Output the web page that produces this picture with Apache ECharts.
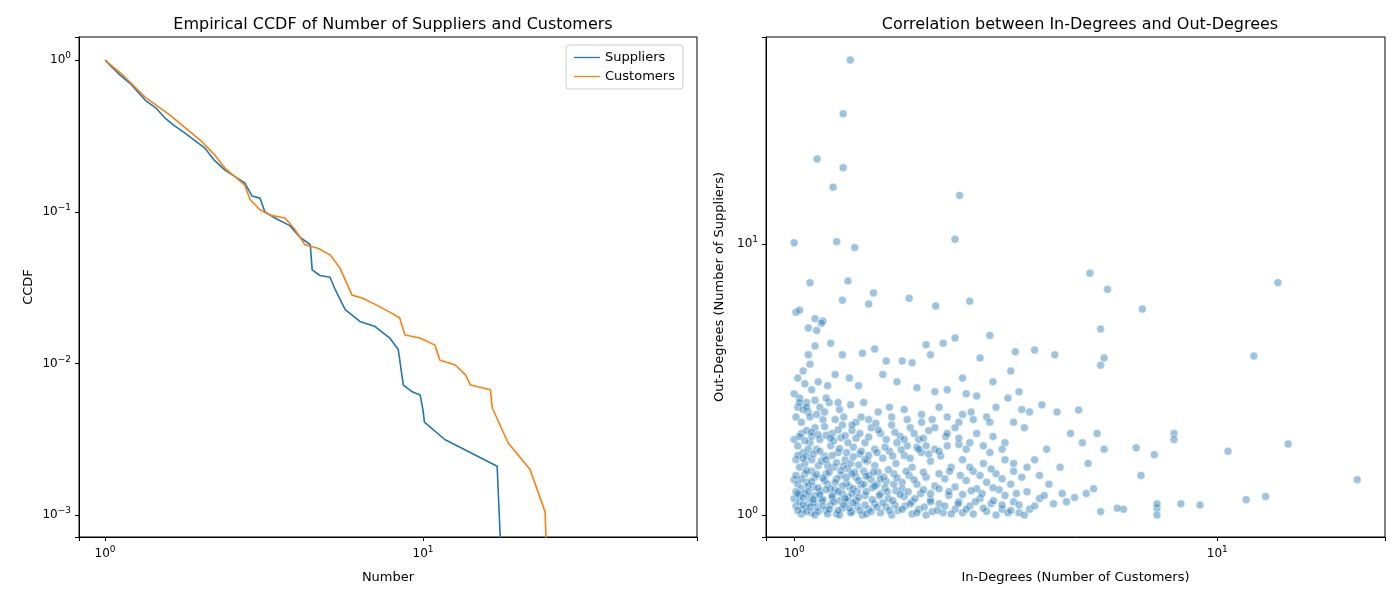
<!DOCTYPE html>
<html lang="en">
<head>
    <meta charset="UTF-8">
    <title>CCDF and degree correlation</title>
    <script src="https://cdn.jsdelivr.net/npm/echarts@6/dist/echarts.min.js"></script>
    <style>
        body {margin: 0; background: #fff;}
        #main {width: 1400px; height: 600px;}
    </style>
</head>
<body>
<div id="main"></div>
<script type="text/javascript">
    // empirical CCDF, [number, ccdf]
    var suppliers = [[1,1],[1.115,0.796],[1.2,0.7],[1.336,0.545],[1.45,0.48],[1.544,0.415],[1.65,0.37],[1.784,0.33],[2.06,0.263],[2.2,0.22],[2.383,0.188],[2.75,0.155],
        [2.9,0.127],[3.07,0.123],[3.18,0.1],[3.42,0.091],[3.81,0.081],[4.1,0.068],[4.42,0.0606],[4.48,0.0414],[4.74,0.038],
        [5.1,0.037],[5.3,0.0305],[5.69,0.0226],[6.33,0.0189],[7.07,0.0175],[7.86,0.0147],[8.36,0.0123],[8.67,0.0072],
        [9.25,0.0065],[9.79,0.0062],[10,0.0049],[10.1,0.0041],[11.7,0.00315],[17.1,0.0021],[17.7,0.0004]];
    var customers = [[1,1],[1.15,0.78],[1.336,0.57],[1.6,0.434],[1.99,0.297],[2.2,0.24],[2.38,0.194],[2.75,0.15],[2.86,0.12],[3.07,0.103],
        [3.3,0.095],[3.68,0.091],[3.96,0.076],[4.25,0.0606],[4.67,0.0575],[5.1,0.052],[5.48,0.0425],[5.98,0.0282],
        [6.43,0.027],[7.07,0.0245],[7.86,0.0218],[8.44,0.02],[8.77,0.0154],[9.79,0.0147],[10.9,0.0132],[11.3,0.0105],
        [12.6,0.0098],[13.6,0.0084],[14.1,0.0072],[16.3,0.0067],[16.5,0.0051],[18.5,0.003],[21.7,0.002],[24.2,0.00105],[24.6,0.0004]];

    // [in-degree, out-degree]
    var degrees = [
        [1.357,47.7],[1.306,30.2],[1.133,20.6],[1.306,19.1],[1.236,16.2],[2.46,15.1],[1.0,10.1],[1.26,10.2],[1.39,9.7],[2.4,10.4],
        [5.0,7.8],[5.5,6.8],[13.9,7.2],[1.09,7.2],[1.34,7.3],[1.54,6.6],[2.6,6.15],[1.87,6.3],[2.16,5.9],[6.65,5.75],
        [1.01,5.6],[1.03,5.7],[5.3,4.86],[1.5,6.0],[1.3,6.2],[2.9,4.6],[12.2,3.86],[5.4,3.8],[4.13,3.9],[3.33,4.0],[3.7,4.06],
        [5.3,3.57],[5.2,2.0],[14.7,1.83],[10.6,1.72],[6.43,1.77],[21.4,1.35],[13.0,1.17],[11.7,1.14],[9.1,1.09],[8.2,1.1],
        [7.2,1.06],[7.9,2.0],[7.9,1.9],[7.1,1.67],[4.7,2.44],[4.18,2.4],[6.6,1.4],[7.2,1.1],[7.2,1.0],[6.0,1.05],[5.8,1.06],
        [5.3,1.03],[4.9,1.2],[5.1,1.25],[4.6,1.16],[4.4,1.12],[4.3,1.2],[4.0,1.3],[3.8,1.15],[3.6,1.05],[3.4,1.02],
        [1.12,5.3],[1.17,5.2],[1.08,4.9],[1.13,4.8],[1.16,5.1],[1.22,4.3],[1.12,4.2],[1.3,3.9],[1.45,3.95],[1.55,4.1],
        [1.65,3.7],[1.8,3.7],[1.9,3.65],[2.05,4.25],[2.1,3.9],[2.25,4.3],[2.4,4.5],[2.75,3.8],[3.25,3.4],[2.5,3.2],
        [1.05,3.4],[1.02,3.2],[1.06,3.05],[1.09,3.6],[1.08,3.9],[1.14,3.1],[1.2,3.0],[1.25,3.3],[1.35,3.2],[1.42,3.0],
        [1.62,3.3],[1.75,3.1],[1.95,2.95],[2.15,2.85],[2.3,2.9],[2.55,2.8],[2.7,2.75],[2.95,3.1],[3.4,2.85],[3.2,2.7],
        [1.0,2.8],[1.03,2.7],[1.07,2.6],[1.1,2.9],[1.15,2.5],[1.21,2.6],[1.28,2.45],[1.36,2.55],[1.46,2.6],[1.58,2.4],
        [1.68,2.5],[1.82,2.45],[2.0,2.35],[2.2,2.5],[2.45,2.2],[2.62,2.4],[2.85,2.3],[3.0,2.5],[3.6,2.4],[3.85,2.55],
        [1.01,2.3],[1.04,2.2],[1.08,2.4],[1.12,2.1],[1.17,2.25],[1.23,2.0],[1.3,2.15],[1.37,2.05],[1.44,2.3],[1.52,2.1],
        [1.6,2.0],[1.7,2.15],[1.78,1.95],[1.88,2.1],[1.97,1.9],[2.08,2.05],[2.28,1.95],[2.4,2.1],[2.7,2.0],[2.95,1.95],
        [3.15,1.85],[3.5,2.1],[3.95,1.75],[4.5,2.0],[4.8,1.85],[4.95,1.55],[5.4,1.75],[4.25,1.5],[3.7,1.6],[3.3,1.55],
        [1.0,1.9],[1.02,1.8],[1.05,1.7],[1.09,1.85],[1.13,1.75],[1.18,1.65],[1.22,1.8],[1.27,1.7],[1.32,1.6],[1.38,1.78],
        [1.43,1.68],[1.49,1.58],[1.55,1.75],[1.62,1.62],[1.68,1.72],[1.74,1.55],[1.82,1.66],[1.9,1.5],[2.0,1.7],[2.1,1.58],
        [2.22,1.65],[2.35,1.5],[2.5,1.6],[2.65,1.45],[2.8,1.55],[3.0,1.42],[3.15,1.6],[3.45,1.38],[2.9,1.7],[2.55,1.75],
        [1.01,1.6],[1.03,1.5],[1.06,1.55],[1.1,1.45],[1.14,1.52],[1.19,1.42],[1.24,1.5],[1.29,1.4],[1.34,1.48],[1.4,1.38],
        [1.46,1.45],[1.52,1.35],[1.58,1.44],[1.65,1.33],[1.72,1.42],[1.8,1.32],[1.87,1.4],[1.95,1.3],[2.05,1.38],[2.15,1.28],
        [2.27,1.36],[2.4,1.27],[2.55,1.34],[2.7,1.25],[2.85,1.32],[3.05,1.24],[3.25,1.3],[3.55,1.22],[3.9,1.18],[4.1,1.1],
        [1.0,1.35],[1.02,1.3],[1.04,1.25],[1.07,1.32],[1.11,1.27],[1.15,1.22],[1.2,1.3],[1.25,1.24],[1.3,1.2],[1.35,1.27],
        [1.41,1.22],[1.47,1.18],[1.53,1.26],[1.6,1.2],[1.67,1.15],[1.74,1.23],[1.82,1.17],[1.9,1.12],[1.99,1.2],[2.1,1.14],
        [2.2,1.1],[2.32,1.18],[2.45,1.12],[2.6,1.08],[2.75,1.15],[2.92,1.1],[3.1,1.05],[3.3,1.12],[3.7,1.08],[2.5,1.02],
        [1.0,1.15],[1.01,1.08],[1.03,1.12],[1.05,1.05],[1.08,1.1],[1.1,1.02],[1.13,1.07],[1.16,1.13],[1.19,1.04],[1.22,1.09],
        [1.26,1.01],[1.3,1.06],[1.33,1.12],[1.37,1.03],[1.41,1.08],[1.45,1.0],[1.5,1.05],[1.55,1.1],[1.6,1.02],[1.65,1.07],
        [1.7,1.0],[1.76,1.04],[1.83,1.08],[1.9,1.01],[1.97,1.05],[2.05,1.0],[2.12,1.03],[2.25,1.02],[2.4,1.05],[2.65,1.01],
        [2.85,1.03],[3.0,1.0],[3.2,1.02],[3.5,1.0],[1.04,1.01],[1.12,1.0],[1.2,1.01],[1.28,1.0],[1.36,1.02],[1.48,1.01],
        [1.06,1.42],[1.12,1.38],[1.18,1.34],[1.26,1.36],[1.33,1.31],[1.39,1.44],[1.44,1.29],[1.5,1.4],[1.57,1.3],[1.63,1.38],
        [1.07,1.65],[1.1,1.6],[1.16,1.58],[1.2,1.52],[1.26,1.56],[1.31,1.52],[1.36,1.55],[1.42,1.53],[1.47,1.6],[1.55,1.52],
        [1.04,2.0],[1.07,2.05],[1.1,1.95],[1.15,1.9],[1.19,1.97],[1.24,1.88],[1.29,1.93],[1.34,1.85],[1.4,1.92],[1.47,1.85],
        [1.02,2.5],[1.05,2.45],[1.09,2.3],[1.13,2.35],[1.18,2.4],[1.25,2.25],[1.31,2.3],[1.4,2.2],[1.5,2.25],[1.56,2.18],
        [1.01,1.22],[1.03,1.18],[1.06,1.2],[1.09,1.16],[1.12,1.18],[1.17,1.14],[1.23,1.16],[1.28,1.13],[1.34,1.16],[1.4,1.13],
        [1.08,1.28],[1.14,1.26],[1.22,1.25],[1.3,1.28],[1.38,1.25],[1.46,1.3],[1.55,1.28],[1.64,1.26],[1.72,1.3],[1.8,1.25],
        [1.75,1.85],[1.85,1.8],[1.95,1.78],[2.05,1.8],[2.15,1.75],[2.3,1.8],[2.45,1.82],[2.6,1.85],[2.8,1.8],[3.1,1.75],
        [1.7,2.3],[1.85,2.25],[2.0,2.2],[2.12,2.25],[2.3,2.3],[2.5,2.35],[2.65,2.25],[2.9,2.2],[3.3,2.2],[3.45,2.45]
    ];
    // extra points in the dense core of the cloud
    var degreesCore = [
        [1.02,1.04],[1.05,1.09],[1.07,1.03],[1.09,1.07],[1.11,1.11],[1.14,1.03],[1.17,1.08],[1.21,1.05],[1.24,1.12],[1.27,1.04],
        [1.31,1.09],[1.35,1.06],[1.38,1.11],[1.43,1.04],[1.47,1.09],[1.52,1.03],[1.57,1.07],[1.62,1.11],[1.68,1.04],[1.73,1.09],
        [1.02,1.2],[1.05,1.16],[1.08,1.22],[1.11,1.14],[1.15,1.19],[1.19,1.24],[1.23,1.18],[1.27,1.22],[1.32,1.15],[1.37,1.2],
        [1.42,1.16],[1.48,1.22],[1.53,1.14],[1.59,1.18],[1.66,1.22],[1.71,1.13],[1.78,1.19],[1.86,1.22],[1.93,1.15],[2.02,1.24],
        [1.01,1.4],[1.04,1.36],[1.07,1.46],[1.1,1.33],[1.13,1.41],[1.17,1.37],[1.21,1.44],[1.25,1.32],[1.29,1.46],[1.33,1.38],
        [1.37,1.42],[1.42,1.34],[1.48,1.39],[1.54,1.44],[1.6,1.36],[1.67,1.47],[1.75,1.37],[1.84,1.45],[1.92,1.35],[2.02,1.44],
        [1.02,1.66],[1.05,1.62],[1.08,1.75],[1.11,1.68],[1.15,1.72],[1.19,1.6],[1.23,1.66],[1.28,1.76],[1.33,1.7],[1.38,1.64],
        [1.44,1.72],[1.5,1.66],[1.57,1.7],[1.64,1.78],[1.71,1.65],[1.79,1.74],[1.88,1.62],[1.97,1.75],[2.08,1.68],[2.2,1.72],
        [1.03,1.95],[1.06,1.88],[1.1,2.02],[1.14,1.98],[1.18,2.12],[1.22,1.92],[1.27,2.06],[1.32,1.96],[1.37,2.15],[1.43,2.0],
        [1.5,1.94],[1.58,2.06],[1.65,1.9],[1.73,2.02],[1.82,1.9],[1.92,2.0],[2.02,1.92],[2.15,2.1],[2.3,2.0],[2.45,1.92],
        [1.8,1.05],[1.88,1.1],[1.95,1.02],[2.03,1.07],[2.1,1.12],[2.18,1.04],[2.27,1.08],[2.35,1.01],[2.44,1.1],[2.55,1.05],
        [2.68,1.12],[2.8,1.06],[2.96,1.13],[3.1,1.09],[3.25,1.04],[3.4,1.09],[2.1,1.2],[2.2,1.25],[2.32,1.22],[2.5,1.19],
        [2.62,1.23],[2.78,1.2],[2.95,1.26],[3.15,1.18],[3.35,1.2],[2.2,1.42],[2.33,1.45],[2.47,1.4],[2.6,1.5],[2.75,1.4],
        [2.92,1.48],[3.1,1.36],[3.3,1.45],[3.55,1.5],[3.8,1.4],[1.03,2.6],[1.07,2.5],[1.12,2.65],[1.19,2.7],[1.27,2.6]
    ];
    var scatterData = degrees.concat(degreesCore);

    var supText = {'0': '0', '1': '1', '-1': '\u22121', '-2': '\u22122', '-3': '\u22123'};

    function logLabel(v) {
        var e = Math.log10(v);
        var r = Math.round(e);
        if (Math.abs(e - r) > 1e-6) return '';
        return '10{s|' + (supText[String(r)] || r) + '}';
    }

    function logAxis(name, min, max, gap) {
        return {
            type: 'log', logBase: 10, min: min, max: max, name: name,
            nameLocation: 'middle', nameGap: gap,
            nameTextStyle: {color: '#000', fontSize: 13, fontFamily: 'DejaVu Sans'},
            axisLine: {show: true, lineStyle: {color: '#000', width: 1}},
            axisTick: {show: true, inside: false, length: 4, lineStyle: {color: '#000'}},
            axisLabel: {
                color: '#000', fontSize: 12, fontFamily: 'DejaVu Sans', formatter: logLabel,
                rich: {s: {fontSize: 9, verticalAlign: 'top', padding: [0, 0, 8, 0], fontFamily: 'DejaVu Sans'}}
            },
            splitLine: {show: false}
        };
    }

    var chart = echarts.init(document.getElementById('main'));
    var xL = logAxis('Number', 0.828, 72.7, 34);
    var yL = logAxis('CCDF', 7.17e-4, 1.42, 44);
    var xR = logAxis('In-Degrees (Number of Customers)', 0.858, 24.9, 34);
    var yR = logAxis('Out-Degrees (Number of Suppliers)', 0.83, 58.0, 40);
    xL.gridIndex = 0; yL.gridIndex = 0; xR.gridIndex = 1; yR.gridIndex = 1;

    chart.setOption({
        animation: false,
        textStyle: {fontFamily: 'DejaVu Sans'},
        title: [
            {text: 'Empirical CCDF of Number of Suppliers and Customers', left: 388, top: 12, textAlign: 'center',
                textStyle: {fontSize: 16, fontWeight: 'normal', color: '#000'}},
            {text: 'Correlation between In-Degrees and Out-Degrees', left: 1075, top: 12, textAlign: 'center',
                textStyle: {fontSize: 16, fontWeight: 'normal', color: '#000'}}
        ],
        legend: {
            data: ['Suppliers', 'Customers'], orient: 'vertical', left: 566, top: 45,
            borderColor: '#ccc', borderWidth: 1, borderRadius: 3, padding: [6, 8], itemGap: 6,
            itemWidth: 26, itemHeight: 10, icon: 'path://M0,5L30,5L30,6.5L0,6.5Z',
            textStyle: {fontSize: 13, color: '#000'}
        },
        grid: [
            {left: 79, top: 37, width: 618, height: 500, show: true, borderColor: '#000', borderWidth: 1},
            {left: 766, top: 37, width: 619, height: 500, show: true, borderColor: '#000', borderWidth: 1}
        ],
        xAxis: [xL, xR],
        yAxis: [yL, yR],
        series: [
            {name: 'Suppliers', type: 'line', xAxisIndex: 0, yAxisIndex: 0, data: suppliers, showSymbol: false,
                clip: true, color: '#1f77b4', lineStyle: {width: 1.6}},
            {name: 'Customers', type: 'line', xAxisIndex: 0, yAxisIndex: 0, data: customers, showSymbol: false,
                clip: true, color: '#ff7f0e', lineStyle: {width: 1.6}},
            {name: 'degrees', type: 'scatter', xAxisIndex: 1, yAxisIndex: 1, data: scatterData, symbolSize: 8,
                itemStyle: {color: 'rgba(31,119,180,0.55)', borderColor: '#fff', borderWidth: 0.6}}
        ]
    });
</script>
</body>
</html>
